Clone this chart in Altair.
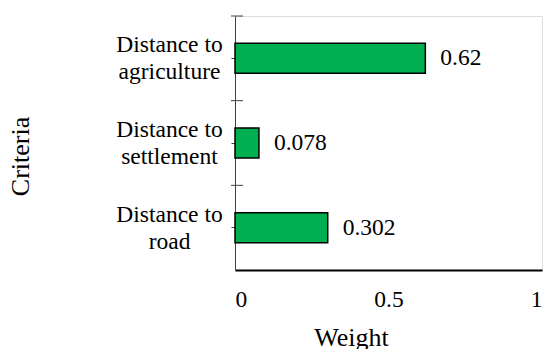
import altair as alt
import pandas as pd

criteria = ["Distance to agriculture", "Distance to settlement", "Distance to road"]
weights = [0.62, 0.078, 0.302]
x_ticks = [0, 0.5, 1]

df = pd.DataFrame({"criteria": criteria, "weight": weights})

FONT = "'Liberation Serif', 'Times New Roman', Times, serif"
FS = 23.5
TFS = 26

y_enc = alt.Y(
    "criteria:N",
    sort=None,
    scale=alt.Scale(paddingInner=0, paddingOuter=0),
    axis=alt.Axis(
        title="Criteria",
        titleFont=FONT,
        titleFontSize=TFS,
        titleFontWeight="normal",
        titleColor="black",
        titleX=-202,
        titleY=140,
        labelFont=FONT,
        labelFontSize=FS,
        labelColor="black",
        labelAlign="center",
        labelBaseline="middle",
        labelLineHeight=27,
        labelOffset=-13,
        labelPadding=62,
        labelExpr="['Distance to', slice(datum.label, 12)]",
        tickSize=4,
        tickColor="#404040",
        domainColor="#404040",
        domainWidth=1,
        grid=False,
    ),
)

x_enc = alt.X(
    "weight:Q",
    scale=alt.Scale(domain=[0, 1], nice=False),
    axis=alt.Axis(
        title="Weight",
        titleFont=FONT,
        titleFontSize=TFS,
        titleFontWeight="normal",
        titleColor="black",
        titleX=116,
        titleY=54,
        labelFont=FONT,
        labelFontSize=FS,
        labelColor="black",
        labelPadding=17,
        values=x_ticks,
        format="~g",
        ticks=False,
        domainColor="black",
        domainWidth=2,
        grid=False,
    ),
)

base = alt.Chart(df)

bars = base.mark_bar(size=30, color="#00B050", stroke="black", strokeWidth=1.5).encode(
    x=x_enc, y=y_enc
)

labels = base.mark_text(
    align="left", baseline="middle", dx=15, font=FONT, fontSize=FS, color="black"
).encode(
    x="weight:Q",
    y=alt.Y("criteria:N", sort=None),
    text=alt.Text("weight:Q", format="~g"),
)

bticks = base.mark_rule(color="#404040", strokeWidth=1).encode(
    y=alt.Y("criteria:N", sort=None, bandPosition=0),
    x=alt.value(-4),
    x2=alt.value(8),
)

chart = (
    alt.layer(bars, labels, bticks)
    .properties(
        width=307,
        height=254,
        autosize=alt.AutoSizeParams(type="none"),
        padding={"left": 235, "top": 16, "right": 4, "bottom": 79},
    )
    .configure_view(stroke=None)
    .configure(background="white")
)

chart.save("out.html", embed_options={"renderer": "svg", "actions": False})
